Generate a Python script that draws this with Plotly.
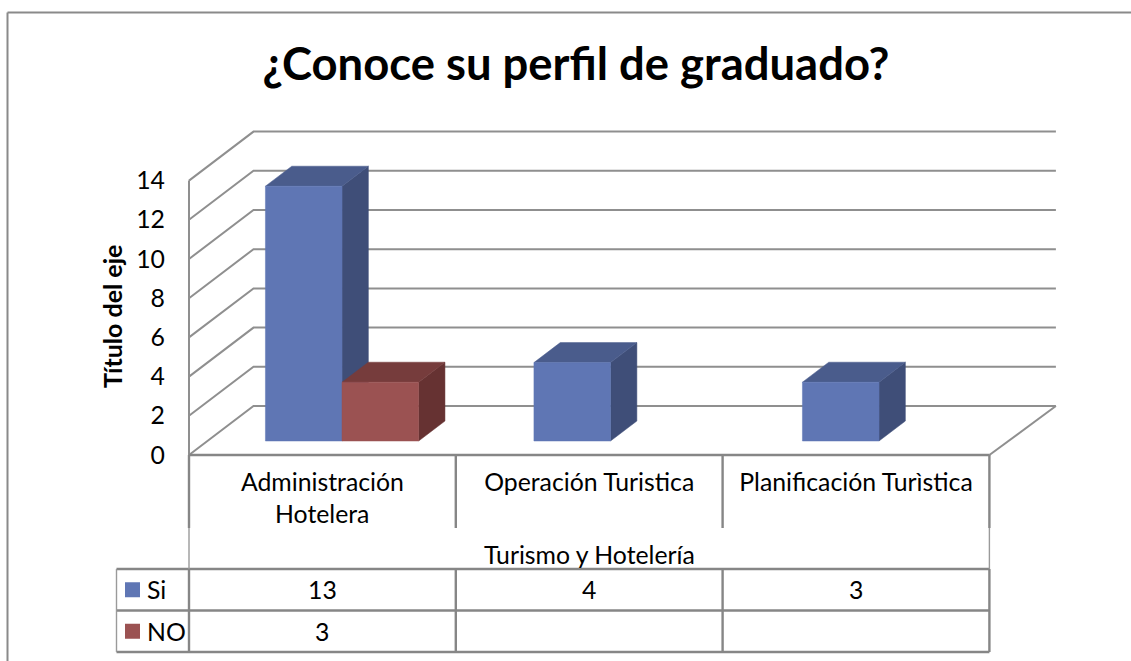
import plotly.graph_objects as go

# ---- data ----
categories = ["Administración", "Operación Turistica", "Planificación Turìstica"]
category_second_lines = ["Hotelera", "", ""]
group_label = "Turismo y Hotelería"
series_names = ["Si", "NO"]
si_values = [13, 4, 3]
no_values = [3, None, None]
y_ticks = [0, 2, 4, 6, 8, 10, 12, 14]
title_text = "¿Conoce su perfil de graduado?"
y_title = "Título del eje"

# ---- styles ----
W, H = 1131, 661
X0_PX, CAT_PX = 189.0, 266.8      # front-plane origin and category width
Y0_PX, UNIT_PX = 455.0, 19.6      # front-plane zero and pixels per value unit
FONT = "Lato"
TXT = 24.8
GRID = "#8f8f8f"
LINE = "#868686"
FACE = {"Si": ("#5f76b4", "#3f4e78", "#4a5c8c"), "NO": ("#9b5252", "#663232", "#763c3c")}

def px_x(p): return (p - X0_PX) / CAT_PX
def px_y(p): return (Y0_PX - p) / UNIT_PX

DEPTH_X, DEPTH_Y = 64.5 / CAT_PX, 49 / UNIT_PX   # wall depth in data units
RIGHT_DEPTH_X = 66.5 / CAT_PX
BAR_START, BAR_DEPTH = 14 / 49, 20 / 49          # bar position inside the depth
BAR_W = 76.6 / CAT_PX
BAR_PITCH = 268.5 / CAT_PX
BAR_SHIFT = 1.2 / CAT_PX

fig = go.Figure()

def line_trace(xs, ys, color, width, name):
    fig.add_trace(go.Scatter(x=xs, y=ys, mode="lines", line=dict(color=color, width=width),
                             hoverinfo="skip", showlegend=False, name=name))

# back wall, left wall, floor
gx, gy = [], []
for v in y_ticks:
    gx += [0, DEPTH_X, len(categories) + RIGHT_DEPTH_X, None]
    gy += [v, v + DEPTH_Y, v + DEPTH_Y, None]
gx += [0, 0, None, len(categories), len(categories) + RIGHT_DEPTH_X, None]
gy += [0, y_ticks[-1], None, 0, DEPTH_Y, None]
line_trace(gx, gy, GRID, 2, "paredes")

# 3-D bars
def face(xs, ys, color, name):
    fig.add_trace(go.Scatter(x=xs, y=ys, mode="lines", fill="toself", fillcolor=color,
                             line=dict(color=color, width=0.5), showlegend=False,
                             hoverinfo="skip", name=name))

sx, sy = DEPTH_X * BAR_START, DEPTH_Y * BAR_START
bx, by = DEPTH_X * BAR_DEPTH, DEPTH_Y * BAR_DEPTH
for s, (name, vals) in enumerate(zip(series_names, [si_values, no_values])):
    front, side, top = FACE[name]
    for i, v in enumerate(vals):
        if v is None:
            continue
        x0 = 0.5 + i * BAR_PITCH + BAR_SHIFT + sx + (s - 1) * BAR_W
        x1 = x0 + BAR_W
        face([x1, x1 + bx, x1 + bx, x1, x1], [sy, sy + by, sy + by + v, sy + v, sy], side, name)
        face([x0, x1, x1 + bx, x0 + bx, x0], [sy + v, sy + v, sy + v + by, sy + v + by, sy + v], top, name)
        face([x0, x1, x1, x0, x0], [sy, sy, sy + v, sy + v, sy], front, name)

# data table
n = len(categories)
row_top, row_1, row_2 = px_y(569), px_y(610.5), px_y(652)
axis_end = px_y(528)
legend_left = px_x(116.5)

tx, ty = [], []
for i in range(n + 1):
    tx += [i, i, None, i, i, None]
    ty += [0, axis_end, None, row_top, row_2, None]
tx += [0, n, None, legend_left, n, None, legend_left, n, None, legend_left, n, None]
ty += [0, 0, None, row_top, row_top, None, row_1, row_1, None, row_2, row_2, None]
line_trace(tx, ty, LINE, 2.4, "tabla")
line_trace([0, 0, None, n, n, None, legend_left, legend_left],
           [axis_end, row_top, None, axis_end, row_top, None, row_top, row_2], "#9a9a9a", 1.4, "tabla2")

# legend keys
rows_y = [(row_top + row_1) / 2, (row_1 + row_2) / 2]
fig.add_trace(go.Scatter(
    x=[px_x(132.5), px_x(132.5)], y=rows_y, mode="markers",
    marker=dict(symbol="square", size=15, color=[FACE[n_][0] for n_ in series_names], line=dict(width=0)),
    hoverinfo="skip", showlegend=False, name="leyenda"))

annotations = []
def note(x, y, text, size=TXT, **kw):
    annotations.append(dict(x=x, y=y, text=text, showarrow=False, xref="x", yref="y",
                            font=dict(family=FONT, size=size, color="#000000"), **kw))

for i, t in enumerate(category_second_lines):
    if t:
        note(i + 0.5, px_y(513), t)
note(n / 2, px_y(554), group_label)
for r, (name, vals) in enumerate(zip(series_names, [si_values, no_values])):
    note(px_x(145), rows_y[r], name, xanchor="left")
    for i, v in enumerate(vals):
        if v is not None:
            note(i + 0.5, rows_y[r], str(v))
annotations.append(dict(x=px_x(112), y=px_y(317), text=y_title, showarrow=False, textangle=-90,
                        xref="x", yref="y",
                        font=dict(family=FONT, size=25, color="#000000", weight="bold")))

fig.update_layout(
    width=W, height=H, margin=dict(l=0, r=0, t=0, b=0),
    paper_bgcolor="white", plot_bgcolor="white", showlegend=False,
    title=dict(text=f"<b>{title_text}</b>", x=576 / W, xanchor="center", y=1 - 64 / H, yanchor="middle",
               font=dict(family=FONT, size=45.4, color="#000000")),
    xaxis=dict(range=[px_x(0), px_x(W)], domain=[0, 1], showgrid=False, zeroline=False, showline=False,
               tickmode="array", tickvals=[i + 0.5 for i in range(n)], ticktext=categories,
               ticks="", ticklabelstandoff=10, anchor="free", position=1 - Y0_PX / H,
               tickfont=dict(family=FONT, size=TXT, color="#000000")),
    yaxis=dict(range=[px_y(H), px_y(0)], domain=[0, 1], showgrid=False, zeroline=False, showline=False,
               tickmode="array", tickvals=y_ticks, ticktext=[str(v) for v in y_ticks],
               ticks="", ticklabelstandoff=24, anchor="free", position=X0_PX / W,
               tickfont=dict(family=FONT, size=TXT, color="#000000")),
    annotations=annotations,
    shapes=[dict(type="line", xref="paper", yref="paper", x0=7.5 / W, x1=1, y0=1 - 12.5 / H, y1=1 - 12.5 / H,
                 line=dict(color="#8a8a8a", width=2)),
            dict(type="line", xref="paper", yref="paper", x0=7.5 / W, x1=7.5 / W, y0=1 - 12.5 / H, y1=0,
                 line=dict(color="#8a8a8a", width=2))],
)
fig.write_html("out.html", config=dict(displayModeBar=False),
               post_script="document.body.style.margin='0';document.documentElement.style.overflow='hidden';")
